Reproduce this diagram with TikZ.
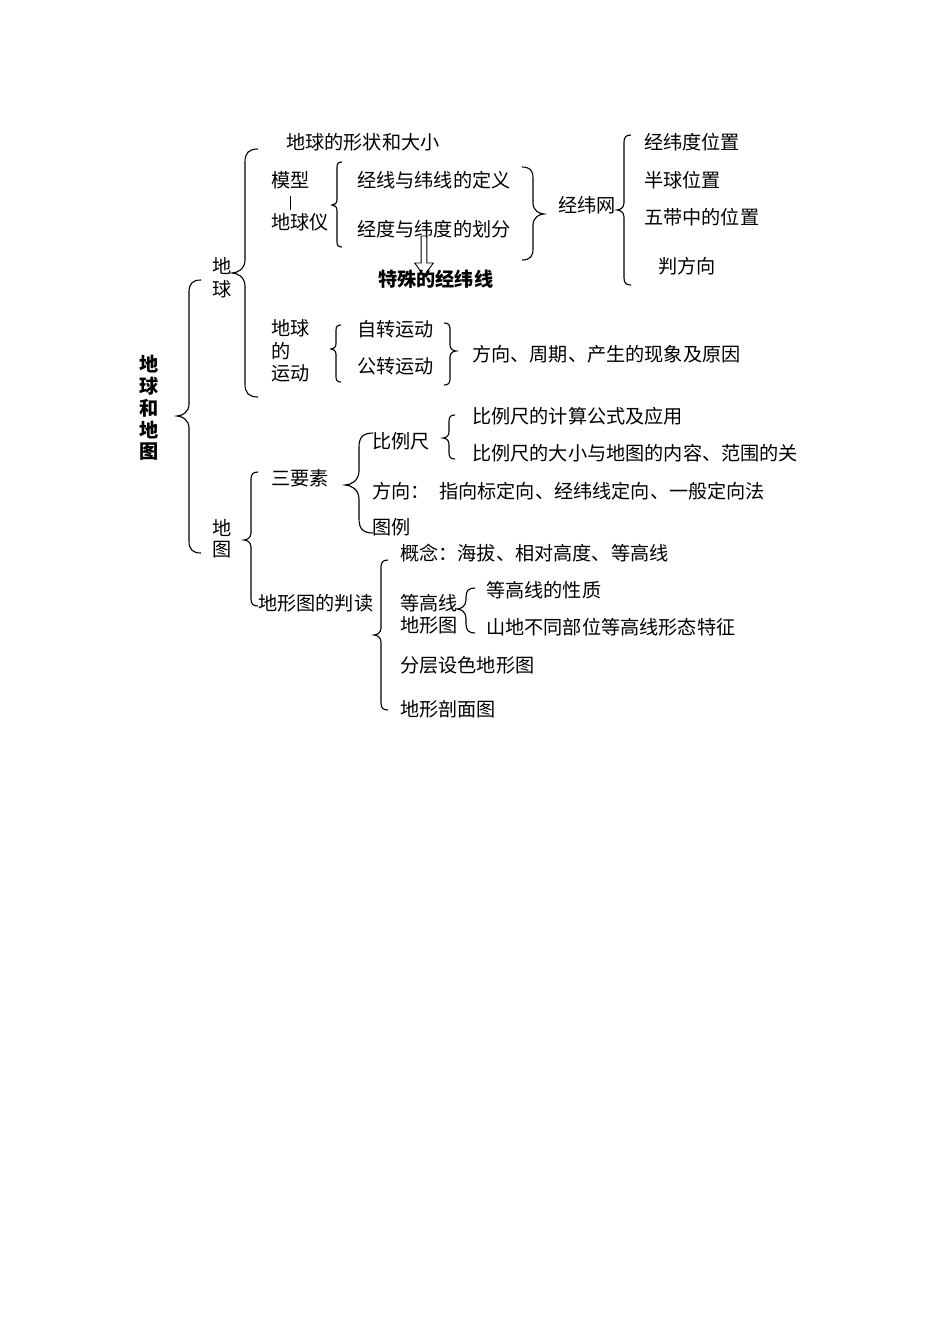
\documentclass[tikz,border=0pt]{standalone}
\usepackage{fontspec}
\setmainfont{Noto Sans CJK SC}
\usepackage{tikz}
\usetikzlibrary{positioning}

% curly brace: stem x, top y, tip y, bottom y, curl size
\newcommand{\curlleft}[5]{%
  \draw[bracepath] (#1+#5,#2) .. controls (#1+0.3*#5,#2) and (#1,#2+0.3*#5) .. (#1,#2+#5)
    -- (#1,#3-#5) .. controls (#1,#3-0.3*#5) and (#1-0.6*#5,#3) .. (#1-#5,#3)
    .. controls (#1-0.6*#5,#3) and (#1,#3+0.3*#5) .. (#1,#3+#5)
    -- (#1,#4-#5) .. controls (#1,#4-0.3*#5) and (#1+0.3*#5,#4) .. (#1+#5,#4);}
\newcommand{\curlright}[5]{%
  \draw[bracepath] (#1-#5,#2) .. controls (#1-0.3*#5,#2) and (#1,#2+0.3*#5) .. (#1,#2+#5)
    -- (#1,#3-#5) .. controls (#1,#3-0.3*#5) and (#1+0.6*#5,#3) .. (#1+#5,#3)
    .. controls (#1+0.6*#5,#3) and (#1,#3+0.3*#5) .. (#1,#3+#5)
    -- (#1,#4-#5) .. controls (#1,#4-0.3*#5) and (#1-0.3*#5,#4) .. (#1-#5,#4);}

\begin{document}
\begin{tikzpicture}[
  x=0.6263pt, y=-0.6263pt,
  font=\fontsize{12}{14}\selectfont,
  item/.style={anchor=west,inner sep=0pt},
  stack/.style={inner sep=0pt},
  boldtxt/.style={font=\fontsize{12}{14}\selectfont\bfseries},
  bracepath/.style={line width=0.7pt},
  hollow/.style={line width=0.6pt,line join=miter}
]
\fill[white] (0,0) rectangle (950,1344);
\useasboundingbox (0,0) rectangle (950,1344);

% Title
\foreach \ch [count=\k from 0] in {地,球,和,地,图} {
  \node[stack,boldtxt] (title\k) at (149,364+22*\k) {\ch};
}
\curlleft{189}{280}{416}{553}{12}

% Earth
\foreach \ch [count=\k from 0] in {地,球} {
  \node[stack] (earth\k) at (222,266+23*\k) {\ch};
}
\curlleft{245}{149}{273}{397}{13}
\node[item] (shape) at (286,142) {地球的形状和大小};
\node[item] (moxing) at (271,180) {模型};
\node[item] (yi) at (271,222) {地球仪};
\draw[line width=0.6pt,shorten <=4pt,shorten >=1.5pt] (moxing.south) -- (moxing.south |- yi.north);

\curlleft{337}{162}{205}{247}{5}
\node[item] (dingyi) at (357,180) {经线与纬线的定义};
\node[item] (huafen) at (357,229) {经度与纬度的划分};
\curlright{533}{167}{214}{260}{11}
\node[item] (jwwang) at (558,205) {经纬网};
\curlleft{624}{135}{210}{285}{7}
\foreach \txt/\yy/\xx/\nm in {经纬度位置/142/644/weizhi, 半球位置/180/644/banqiu,
  五带中的位置/217/644/wudai, 判方向/266/658/panfx} {
  \node[item] (\nm) at (\xx,\yy) {\txt};
}

% Special lines
\node[item,boldtxt] (tesu) at (378,279) {特殊的经纬线};
\coordinate (arrowtop) at (424,236);
\draw[hollow] (arrowtop) ++(-2.8,0) -- ++(0,27) -- ++(-6.5,0) -- ++(9.3,13)
  -- ++(9.3,-13) -- ++(-6.5,0) -- ++(0,-27) -- cycle;

% Motion
\foreach \txt/\yy [count=\k] in {地球/328, 的/351, 运动/373} {
  \node[item] (move\k) at (271,\yy) {\txt};
}
\curlleft{336}{325}{349}{382}{5}
\node[item] (zizhuan) at (357,329) {自转运动};
\node[item] (gongzhuan) at (357,366) {公转运动};
\curlright{450}{323}{351}{385}{6}
\node[item] (xianxiang) at (472,354) {方向、周期、产生的现象及原因};

% Map
\foreach \ch [count=\k from 0] in {地,图} {
  \node[stack] (map\k) at (222,528+22*\k) {\ch};
}
\curlleft{251}{472}{540}{606}{7}
\node[item] (sanyaosu) at (271,478) {三要素};
\curlleft{359}{433}{485}{533}{14}
\node[item] (bili) at (372,441) {比例尺};
\curlleft{449}{415}{438}{459}{6}
\node[item] (gongshi) at (472,416) {比例尺的计算公式及应用};
\node[item] (daxiao) at (472,453) {比例尺的大小与地图的内容、范围的关};
\node[item] (fangxiang) at (372,491) {方向：};
\node[item] (dingxiang) at (439,491) {指向标定向、经纬线定向、一般定向法};
\node[item] (tuli) at (372,527) {图例};

% Contour maps
\node[item] (pandu) at (258,603) {地形图的判读};
\curlleft{381}{560}{635}{710}{7}
\node[item] (gainian) at (400,553) {概念：海拔、相对高度、等高线};
\node[item] (dgx) at (400,603) {等高线};
\node[item] (dxt) at (400,625) {地形图};
\curlleft{466}{588}{609}{633}{9}
\node[item] (xingzhi) at (486,590) {等高线的性质};
\node[item] (tezheng) at (486,627) {山地不同部位等高线形态特征};
\node[item] (fenceng) at (400,665) {分层设色地形图};
\node[item] (poumian) at (400,709) {地形剖面图};

\end{tikzpicture}
\end{document}
